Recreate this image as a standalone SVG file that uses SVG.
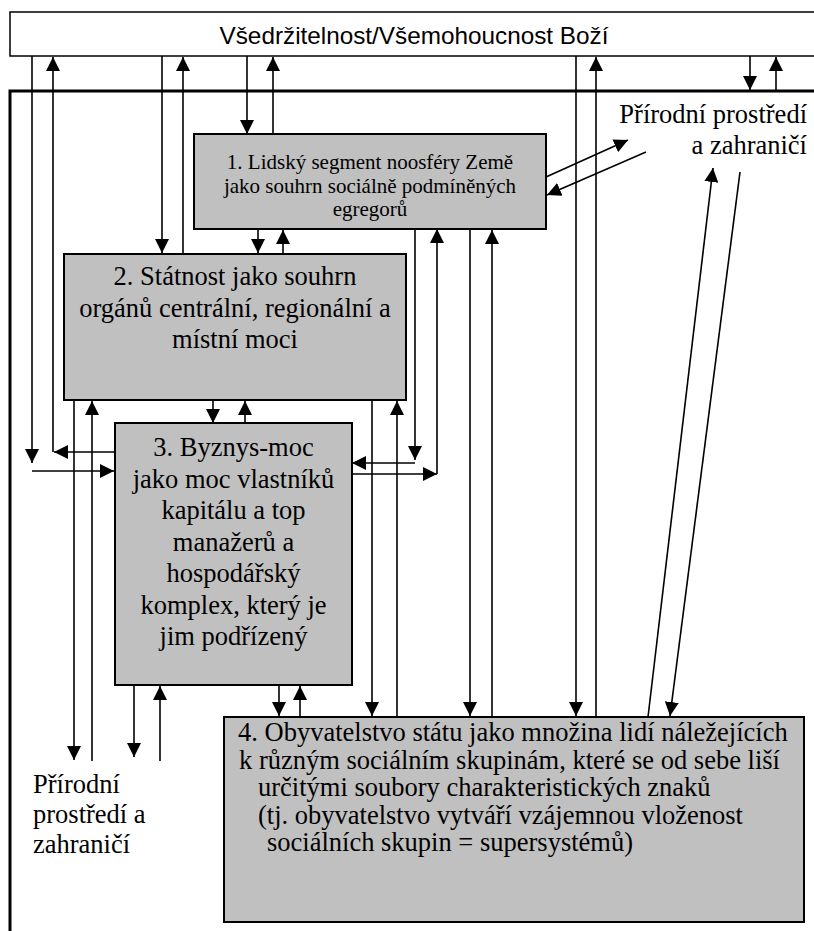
<svg xmlns="http://www.w3.org/2000/svg" width="814" height="931" viewBox="0 0 814 931">
<style>
.bx{fill:#c0c0c0;stroke:#000;stroke-width:2}
.t{font-family:"Liberation Serif","Times New Roman",serif;font-size:26.5px;fill:#000}
.t1{font-family:"Liberation Serif","Times New Roman",serif;font-size:21px;fill:#000}
.c line{stroke:#000;stroke-width:1.6;fill:none}
.a{marker-end:url(#ah)}
</style>
<defs>
<marker id="ah" markerUnits="userSpaceOnUse" markerWidth="14" markerHeight="14" refX="14" refY="7" orient="auto">
<path d="M0,0 L14,7 L0,14 z" fill="#000"/>
</marker>
</defs>
<rect width="814" height="931" fill="#fff"/>
<g id="top">
<rect x="10" y="12" width="812" height="44" fill="#fff" stroke="#000" stroke-width="1.5"/>
<text x="414" y="43.5" text-anchor="middle" style="font-family:'Liberation Sans',Arial,sans-serif;font-size:24.3px">Všedržitelnost/Všemohoucnost Boží</text>
</g>
<g id="frame">
<path d="M10,935 V91 H818" fill="none" stroke="#000" stroke-width="3"/>
</g>
<g id="label-top-right">
<text class="t" x="807" y="123" text-anchor="end">Přírodní prostředí</text>
<text class="t" x="807" y="154" text-anchor="end">a zahraničí</text>
</g>
<g id="label-bottom-left">
<text class="t" x="33" y="793">Přírodní</text>
<text class="t" x="33" y="823">prostředí a</text>
<text class="t" x="33" y="853">zahraničí</text>
</g>
<g id="box1">
<rect class="bx" x="194" y="134" width="352" height="95"/>
<text class="t1" x="370" y="169" text-anchor="middle">1. Lidský segment noosféry Země</text>
<text class="t1" x="370" y="192.5" text-anchor="middle">jako souhrn sociálně podmíněných</text>
<text class="t1" x="370" y="216" text-anchor="middle">egregorů</text>
</g>
<g id="box2">
<rect class="bx" x="64" y="254" width="342" height="146"/>
<text class="t" x="235" y="285" text-anchor="middle">2. Státnost jako souhrn</text>
<text class="t" x="235" y="317" text-anchor="middle">orgánů centrální, regionální a</text>
<text class="t" x="235" y="348" text-anchor="middle">místní moci</text>
</g>
<g id="box3">
<rect class="bx" x="115" y="423" width="237" height="262"/>
<text class="t" x="233.5" y="456" text-anchor="middle">3. Byznys-moc</text>
<text class="t" x="233.5" y="487.5" text-anchor="middle">jako moc vlastníků</text>
<text class="t" x="233.5" y="519" text-anchor="middle">kapitálu a top</text>
<text class="t" x="233.5" y="550.5" text-anchor="middle">manažerů a</text>
<text class="t" x="233.5" y="582" text-anchor="middle">hospodářský</text>
<text class="t" x="233.5" y="613.5" text-anchor="middle">komplex, který je</text>
<text class="t" x="233.5" y="645" text-anchor="middle">jim podřízený</text>
</g>
<g id="box4">
<rect class="bx" x="224" y="717" width="580" height="205"/>
<text class="t" x="238" y="741">4. Obyvatelstvo státu jako množina lidí náležejících</text>
<text class="t" x="239" y="768.5">k různým sociálním skupinám, které se od sebe liší</text>
<text class="t" x="258" y="796">určitými soubory charakteristických znaků</text>
<text class="t" x="258" y="823.5">(tj. obyvatelstvo vytváří vzájemnou vloženost</text>
<text class="t" x="267" y="851">sociálních skupin = supersystémů)</text>
</g>
<g id="connectors" class="c">
<line class="a" x1="32" y1="56" x2="32" y2="463"/>
<line class="a" x1="32" y1="471" x2="114" y2="471"/>
<line class="a" x1="115" y1="452" x2="54" y2="452"/>
<line class="a" x1="53" y1="452" x2="53" y2="57"/>
<line class="a" x1="162" y1="56" x2="162" y2="253"/>
<line class="a" x1="183" y1="254" x2="183" y2="57"/>
<line class="a" x1="247" y1="56" x2="247" y2="134"/>
<line class="a" x1="273" y1="134" x2="273" y2="57"/>
<line class="a" x1="258" y1="229" x2="258" y2="253"/>
<line class="a" x1="283" y1="254" x2="283" y2="230"/>
<line class="a" x1="213" y1="400" x2="213" y2="423"/>
<line class="a" x1="245" y1="423" x2="245" y2="401"/>
<line class="a" x1="74" y1="400" x2="74" y2="760"/>
<line class="a" x1="92" y1="761" x2="92" y2="401"/>
<line class="a" x1="134" y1="685" x2="134" y2="757"/>
<line class="a" x1="160" y1="761" x2="160" y2="686"/>
<line class="a" x1="279" y1="685" x2="279" y2="716"/>
<line class="a" x1="300" y1="717" x2="300" y2="686"/>
<line class="a" x1="372" y1="400" x2="372" y2="716"/>
<line class="a" x1="397" y1="717" x2="397" y2="401"/>
<line class="a" x1="415" y1="229" x2="415" y2="460"/>
<line class="a" x1="415" y1="463" x2="352" y2="463"/>
<line class="a" x1="352" y1="474" x2="437" y2="474"/>
<line class="a" x1="437" y1="474" x2="437" y2="229"/>
<line class="a" x1="470" y1="229" x2="470" y2="716"/>
<line class="a" x1="492" y1="717" x2="492" y2="230"/>
<line class="a" x1="576" y1="56" x2="576" y2="716"/>
<line class="a" x1="596" y1="717" x2="596" y2="57"/>
<line class="a" x1="750" y1="56" x2="750" y2="90"/>
<line class="a" x1="776" y1="91" x2="776" y2="57"/>
<line class="a" x1="546" y1="177" x2="628" y2="140"/>
<line class="a" x1="646" y1="152" x2="547" y2="195"/>
<line class="a" x1="648" y1="717" x2="713" y2="168"/>
<line class="a" x1="740" y1="172" x2="670" y2="716"/>
</g>
</svg>
